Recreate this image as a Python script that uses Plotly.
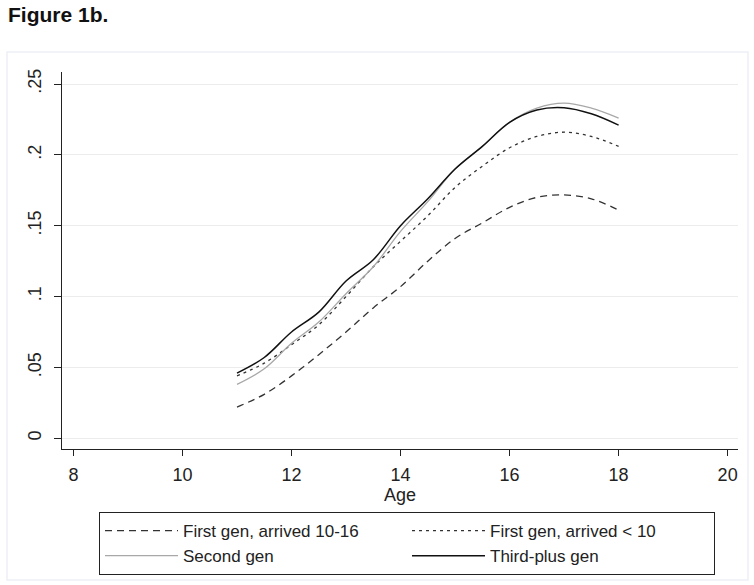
import plotly.graph_objects as go

ages = [11, 11.5, 12, 12.5, 13, 13.5, 14, 14.5, 15, 15.5, 16, 16.5, 17, 17.5, 18]
first_gen_10_16 = [0.022, 0.031, 0.044, 0.059, 0.075, 0.092, 0.107, 0.125, 0.141, 0.152, 0.163, 0.170, 0.1717, 0.169, 0.161]
first_gen_lt10 = [0.044, 0.053, 0.066, 0.080, 0.100, 0.121, 0.139, 0.157, 0.177, 0.192, 0.205, 0.213, 0.216, 0.213, 0.206]
second_gen = [0.038, 0.049, 0.067, 0.082, 0.102, 0.121, 0.146, 0.167, 0.190, 0.206, 0.223, 0.233, 0.2365, 0.233, 0.226]
third_plus_gen = [0.046, 0.057, 0.075, 0.089, 0.111, 0.126, 0.150, 0.169, 0.190, 0.206, 0.223, 0.2317, 0.2333, 0.229, 0.221]

x_ticks = [8, 10, 12, 14, 16, 18, 20]
y_ticks = [0, 0.05, 0.1, 0.15, 0.2, 0.25]
y_tick_labels = ["0", ".05", ".1", ".15", ".2", ".25"]

FONT = "Liberation Sans, Arial, sans-serif"

W, H = 754, 585
L, R, T, B = 62, 738, 72, 449

fig = go.Figure()
fig.add_trace(go.Scatter(x=ages, y=first_gen_10_16, mode="lines", name="First gen, arrived 10-16",
                         line=dict(color="#333333", width=1.3, dash="7px,5px", shape="spline")))
fig.add_trace(go.Scatter(x=ages, y=first_gen_lt10, mode="lines", name="First gen, arrived < 10",
                         line=dict(color="#333333", width=1.3, dash="3px,4px", shape="spline")))
fig.add_trace(go.Scatter(x=ages, y=second_gen, mode="lines", name="Second gen",
                         line=dict(color="#a8a8a8", width=1.3, shape="spline")))
fig.add_trace(go.Scatter(x=ages, y=third_plus_gen, mode="lines", name="Third-plus gen",
                         line=dict(color="#111111", width=1.5, shape="spline")))

def px_x(p):
    return (p - L) / (R - L)

def px_y(p):
    return (B - p) / (B - T)

fig.update_layout(
    width=W, height=H,
    margin=dict(l=L, r=W - R, t=T, b=H - B, autoexpand=False),
    paper_bgcolor="white", plot_bgcolor="white",
    font=dict(family=FONT, size=18, color="#222222"),
    xaxis=dict(range=[7.79, 20.19], tickvals=x_ticks, showgrid=False, zeroline=False,
               showline=True, linecolor="#222222", linewidth=1.2, ticks="outside", ticklen=6,
               tickcolor="#222222", ticklabelstandoff=3,
               title=dict(text="Age", standoff=2, font=dict(size=18))),
    yaxis=dict(range=[-0.0076, 0.2585], tickvals=y_ticks, ticktext=y_tick_labels, tickangle=-90,
               showgrid=True, gridcolor="#ececec", gridwidth=1, zeroline=False,
               showline=True, linecolor="#222222", linewidth=1.2, ticks="outside", ticklen=7,
               tickcolor="#222222", ticklabelstandoff=6),
    legend=dict(orientation="h", x=px_x(99), xanchor="left", y=px_y(512), yanchor="top",
                bordercolor="#222222", borderwidth=1, bgcolor="white",
                itemwidth=73, entrywidth=219, entrywidthmode="pixels",
                font=dict(size=17), tracegroupgap=0, traceorder="normal"),
    annotations=[dict(text="<b>Figure 1b.</b>", xref="paper", yref="paper", x=px_x(6), y=px_y(1),
                      xanchor="left", yanchor="top", showarrow=False,
                      font=dict(family=FONT, size=21, color="#111111"))],
    shapes=[dict(type="rect", xref="paper", yref="paper", x0=px_x(7), x1=px_x(748), y0=px_y(580), y1=px_y(52),
                 line=dict(color="#eef0f6", width=1.5), layer="below")],
)

fig.write_html("out.html", config={"displayModeBar": False},
               post_script="document.body.style.margin='0';document.body.style.padding='0';document.body.style.overflow='hidden';")
